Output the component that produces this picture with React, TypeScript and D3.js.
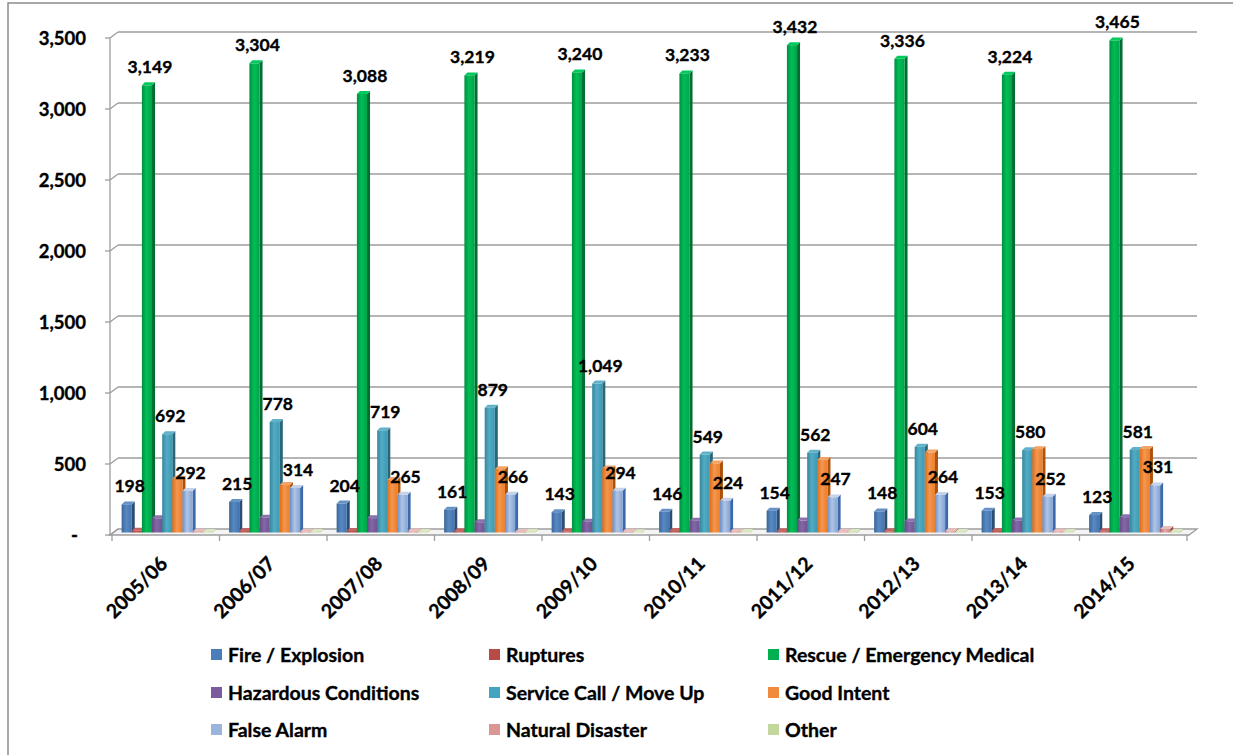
import React from "react";
import * as d3 from "d3";

const years = ["2005/06", "2006/07", "2007/08", "2008/09", "2009/10", "2010/11", "2011/12", "2012/13", "2013/14", "2014/15"];

const fireExplosion = [198, 215, 204, 161, 143, 146, 154, 148, 153, 123];
const ruptures = [12, 10, 11, 9, 8, 10, 9, 8, 10, 8];
const rescueMedical = [3149, 3304, 3088, 3219, 3240, 3233, 3432, 3336, 3224, 3465];
const hazardous = [100, 104, 101, 72, 76, 83, 84, 78, 85, 108];
const serviceCall = [692, 778, 719, 879, 1049, 549, 562, 604, 580, 581];
const goodIntent = [378, 334, 369, 446, 451, 486, 510, 563, 587, 588];
const falseAlarm = [292, 314, 265, 266, 294, 224, 247, 264, 252, 331];
const naturalDisaster = [6, 5, 7, 4, 5, 6, 5, 8, 6, 24];
const other = [3, 4, 3, 3, 2, 3, 4, 3, 3, 4];

const yTicks = [0, 500, 1000, 1500, 2000, 2500, 3000, 3500];

type Series = { name: string; values: number[]; color: string; labelled: boolean };

const series: Series[] = [
  { name: "Fire / Explosion", values: fireExplosion, color: "#4a7ebb", labelled: true },
  { name: "Ruptures", values: ruptures, color: "#b84a47", labelled: false },
  { name: "Rescue / Emergency Medical", values: rescueMedical, color: "#00b050", labelled: true },
  { name: "Hazardous Conditions", values: hazardous, color: "#7a5c9e", labelled: false },
  { name: "Service Call / Move Up", values: serviceCall, color: "#44a4bf", labelled: true },
  { name: "Good Intent", values: goodIntent, color: "#f08a3c", labelled: false },
  { name: "False Alarm", values: falseAlarm, color: "#9ab4dc", labelled: true },
  { name: "Natural Disaster", values: naturalDisaster, color: "#d99694", labelled: false },
  { name: "Other", values: other, color: "#c3d69b", labelled: false },
];

const W = 1233;
const H = 755;
const FONT = "Lato, 'Open Sans', sans-serif";

// 3D frame geometry
const frontLeft = 110;
const frontRight = 1189;
const wallDx = 8;
const wallDy = 6;
const barDx = 3;
const barDy = 3;

const fmt = d3.format(",");

const textStyle = {
  fontFamily: FONT,
  fontWeight: 700,
  fill: "#000",
  stroke: "#000",
  strokeWidth: 0.35,
} as const;

export default function App() {
  React.useEffect(() => {
    document.body.style.margin = "0";
    document.body.style.overflow = "hidden";
  }, []);

  const y = d3.scaleLinear().domain([0, 3500]).range([535, 38]);
  const x = d3.scaleBand<string>().domain(years).range([frontLeft + 2, frontRight - 2]).paddingInner(0).paddingOuter(0);
  const inner = d3
    .scaleBand<number>()
    .domain(series.map((_, i) => i))
    .range([0, x.bandwidth()])
    .paddingOuter(0.8)
    .paddingInner(0);

  const barShift = 2.5; // bars sit slightly back from the front edge
  const yBar = (v: number) => y(v) - barShift;
  const barBase = yBar(0);
  const bw = inner.bandwidth();

  const gridColor = "#9d9d9d";

  const legendCols = [211, 489, 768];
  const legendRows = [655, 693, 730];

  return (
    <svg width={W} height={H} style={{ position: "absolute", left: 0, top: 0, background: "#fff" }}>
      <defs>
        {series.map((s, i) => {
          const c = d3.hsl(s.color);
          return (
            <linearGradient key={i} id={`g${i}`} x1="0" x2="1" y1="0" y2="0">
              <stop offset="0" stopColor={d3.hsl(c.h, c.s, c.l * 0.82).toString()} />
              <stop offset="0.45" stopColor={d3.hsl(c.h, c.s, Math.min(0.9, c.l * 1.08)).toString()} />
              <stop offset="1" stopColor={d3.hsl(c.h, c.s, c.l * 0.92).toString()} />
            </linearGradient>
          );
        })}
      </defs>

      {/* outer chart border */}
      <rect x={8} y={3} width={W} height={H} fill="none" stroke="#8c8c8c" strokeWidth={1.5} />

      {/* floor */}
      <path
        d={`M${frontLeft},${y(0)} L${frontRight},${y(0)} L${frontRight + wallDx},${y(0) - wallDy} L${frontLeft + wallDx},${y(0) - wallDy} Z`}
        fill="#f4f4f4"
        stroke={gridColor}
        strokeWidth={1.3}
      />

      {/* gridlines on side and back walls */}
      {yTicks.map((t) => (
        <g key={t}>
          <line x1={frontLeft - 5} x2={frontLeft} y1={y(t)} y2={y(t)} stroke={gridColor} strokeWidth={1.3} />
          <line x1={frontLeft} y1={y(t)} x2={frontLeft + wallDx} y2={y(t) - wallDy} stroke={gridColor} strokeWidth={1.3} />
          {t > 0 && (
            <line
              x1={frontLeft + wallDx}
              y1={y(t) - wallDy}
              x2={frontRight + wallDx}
              y2={y(t) - wallDy}
              stroke={gridColor}
              strokeWidth={1.6}
            />
          )}
        </g>
      ))}
      <line x1={frontLeft} x2={frontLeft} y1={y(3500)} y2={y(0)} stroke={gridColor} strokeWidth={1.3} />

      {/* category ticks */}
      {years.map((yr) => (
        <line key={yr} x1={x(yr)!} x2={x(yr)!} y1={y(0)} y2={y(0) + 6} stroke={gridColor} strokeWidth={1.3} />
      ))}
      <line x1={frontRight - 2} x2={frontRight - 2} y1={y(0)} y2={y(0) + 6} stroke={gridColor} strokeWidth={1.3} />

      {/* y-axis labels */}
      {yTicks.map((t) => (
        <text key={t} x={t === 0 ? 78 : 86} y={y(t) + 6.5} textAnchor="end" fontSize={18.5} {...textStyle}>
          {t === 0 ? "-" : fmt(t)}
        </text>
      ))}

      {/* 3D columns */}
      {years.map((yr, ci) => (
        <g key={yr}>
          {series.map((s, si) => {
            const v = s.values[ci];
            const bx = x(yr)! + inner(si)! + 1.5;
            const top = yBar(v);
            const c = d3.hsl(s.color);
            const side = d3.hsl(c.h, c.s, c.l * 0.62).toString();
            const topC = d3.hsl(c.h, c.s, Math.min(0.92, c.l * 1.15)).toString();
            return (
              <g key={s.name}>
                <path
                  d={`M${bx + bw},${top} L${bx + bw + barDx},${top - barDy} L${bx + bw + barDx},${barBase - barDy} L${bx + bw},${barBase} Z`}
                  fill={side}
                />
                <path
                  d={`M${bx},${top} L${bx + barDx},${top - barDy} L${bx + bw + barDx},${top - barDy} L${bx + bw},${top} Z`}
                  fill={topC}
                />
                <rect x={bx} y={top} width={bw} height={Math.max(0, barBase - top)} fill={`url(#g${si})`} />
              </g>
            );
          })}
        </g>
      ))}

      {/* value labels */}
      {years.map((yr, ci) =>
        series.map((s, si) => {
          if (!s.labelled) return null;
          const v = s.values[ci];
          const bx = x(yr)! + inner(si)! + 1.5;
          return (
            <text
              key={`${yr}-${si}`}
              x={bx + bw / 2 + 3}
              y={yBar(v) - 12}
              textAnchor="middle"
              fontSize={17.5}
              {...textStyle}
            >
              {fmt(v)}
            </text>
          );
        })
      )}

      {/* category labels */}
      {years.map((yr) => {
        const cx = x(yr)! + x.bandwidth() / 2 + 3;
        const cy = 565;
        return (
          <text
            key={yr}
            transform={`translate(${cx},${cy}) rotate(-45)`}
            textAnchor="end"
            fontSize={19.5}
            {...textStyle}
          >
            {yr}
          </text>
        );
      })}

      {/* legend */}
      {series.map((s, i) => {
        const lx = legendCols[i % 3];
        const ly = legendRows[Math.floor(i / 3)];
        return (
          <g key={s.name}>
            <rect x={lx} y={ly - 6} width={11} height={11} fill={s.color} />
            <text x={lx + 17} y={ly + 6.5} fontSize={19.5} {...textStyle}>
              {s.name}
            </text>
          </g>
        );
      })}
    </svg>
  );
}
